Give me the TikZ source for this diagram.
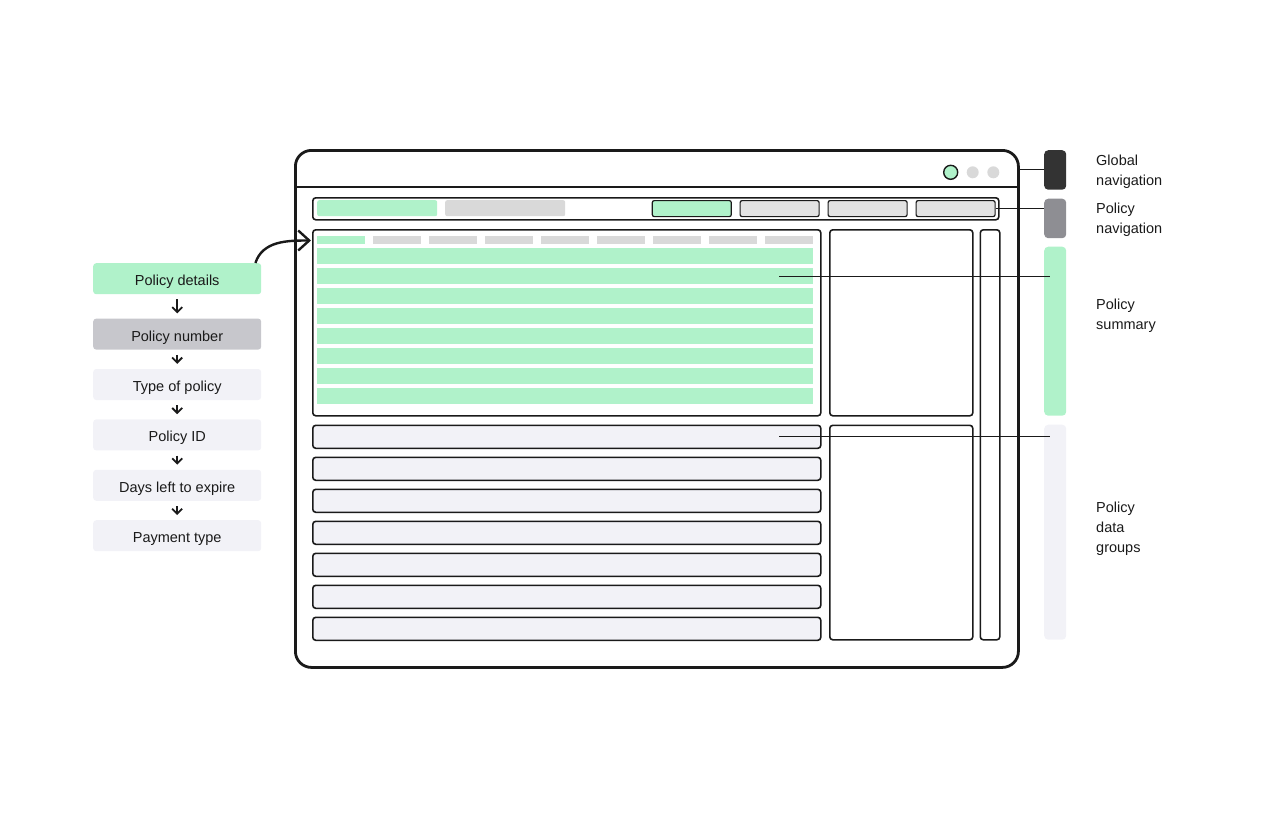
\documentclass[tikz,border=0pt]{standalone}
\usepackage{fontspec}
\setmainfont{Liberation Sans}
\usepackage{tikz}
\usetikzlibrary{arrows.meta, calc, positioning}
\definecolor{ink}{HTML}{1A1A1A}
\definecolor{mint}{HTML}{B0F2CA}
\definecolor{midgray}{HTML}{C7C7CC}
\definecolor{pale}{HTML}{F2F2F7}
\definecolor{tabgray}{HTML}{D9D9D9}
\definecolor{btngray}{HTML}{E2E2E2}
\definecolor{darkbar}{HTML}{333333}
\definecolor{navgray}{HTML}{8E8E93}
\newcommand{\labelfont}{\fontsize{14.5pt}{20pt}\selectfont}
\tikzstyle{win} = [draw=ink, line width=2.8pt, rounded corners=16pt, inner sep=0pt, anchor=north west]
\tikzstyle{panel} = [draw=ink, line width=1.6pt, rounded corners=3pt, inner sep=0pt, anchor=north west]
\tikzstyle{btn} = [draw=ink, line width=1.2pt, rounded corners=2pt, inner sep=0pt, anchor=north west, minimum width=79pt, minimum height=16pt]
\tikzstyle{fillbar} = [inner sep=0pt, anchor=north west]
\tikzstyle{side} = [rounded corners=4pt, inner sep=0pt, anchor=north west, minimum width=22pt]
\tikzstyle{flowbox} = [rounded corners=3pt, inner sep=0pt, minimum width=168pt, minimum height=31pt, text height=14pt, text depth=0pt, text=ink, font=\labelfont]
\tikzstyle{lbl} = [anchor=west, align=left, inner sep=0pt, text=ink, font=\labelfont]
\tikzstyle{leader} = [draw=ink, line width=1pt]
\tikzstyle{down} = [ink, line width=1.8pt, -{Straight Barb[length=5pt,width=10pt]}]
\tikzstyle{curve} = [ink, line width=2.4pt, -{Straight Barb[length=11pt,width=20pt]}]

\begin{document}
\begin{tikzpicture}[x=1pt, y=-1pt]
		\useasboundingbox (0,0) rectangle (1272,812);

		% browser window
		\node (window) [win, minimum width=723pt, minimum height=517pt] at (294,149) {};
		\draw [ink, line width=1.6pt] (window.west |- 0,187) -- (window.east |- 0,187);
		\node (dotgreen) [circle, draw=ink, line width=1.4pt, fill=mint, minimum size=14pt, inner sep=0pt] at (950.7,172.3) {};
		\node (dotone) [circle, fill=tabgray, minimum size=12pt, inner sep=0pt] at (972.7,172.3) {};
		\node (dottwo) [circle, fill=tabgray, minimum size=12pt, inner sep=0pt] at (993.3,172.3) {};

		% policy navigation
		\node (toolbar) [panel, minimum width=686pt, minimum height=22pt] at (312,197) {};
		\node (crumbone) [fillbar, fill=mint, rounded corners=2pt, minimum width=120pt, minimum height=16pt] at (317,200) {};
		\node (crumbtwo) [fillbar, fill=tabgray, rounded corners=2pt, minimum width=120pt, minimum height=16pt] at (445,200) {};
		\node (navbtn1) [btn, fill=mint] at (651.7,200) {};
		\node (navbtn2) [btn, fill=btngray] at (739.5,200) {};
		\node (navbtn3) [btn, fill=btngray] at (827.5,200) {};
		\node (navbtn4) [btn, fill=btngray] at (915.5,200) {};

		% policy summary
		\node (summary) [panel, minimum width=508pt, minimum height=186pt] at (312,229) {};
		\foreach \i in {0,...,8}
			\node (tab\i) [fillbar, fill=tabgray, minimum width=48pt, minimum height=8pt] at (317+56*\i,236) {};
		\node [fillbar, fill=mint, minimum width=48pt, minimum height=8pt] at (317,236) {};
		\foreach \j in {0,...,7}
			\node (row\j) [fillbar, fill=mint, minimum width=496pt, minimum height=16pt] at (317,248+20*\j) {};
		\node (sidetop) [panel, minimum width=143pt, minimum height=186pt] at (829,229) {};
		\node (sidebot) [panel, minimum width=143pt, minimum height=214.5pt] at (829,424.5) {};
		\node (scroll) [panel, minimum width=19.5pt, minimum height=410pt] at (979.5,229) {};

		% policy data groups
		\foreach \j in {0,...,6}
			\node (data\j) [panel, fill=pale, minimum width=508pt, minimum height=23pt] at (312,424.5+32*\j) {};

		% legend bars
		\node (globalbar) [side, fill=darkbar, minimum height=39.5pt] at (1044,150) {};
		\node (navbar) [side, fill=navgray, minimum height=39.5pt] at (1044,198.5) {};
		\node (sumbar) [side, fill=mint, minimum height=169pt] at (1044,246.5) {};
		\node (databar) [side, fill=pale, minimum height=215pt] at (1044,424.5) {};

		\node (globallbl) [lbl] at (1096,172) {Global\\navigation};
		\node (navlbl) [lbl] at (1096,220) {Policy\\navigation};
		\node (sumlbl) [lbl] at (1096,316) {Policy\\summary};
		\node (datalbl) [lbl] at (1096,529) {Policy\\data\\groups};

		\coordinate (sumstart) at (779,276);
		\coordinate (sumend) at ($(sumbar.west |- sumstart)+(6,0)$);
		\coordinate (datastart) at (779,436);
		\coordinate (dataend) at ($(databar.west |- datastart)+(6,0)$);

		\draw [leader] (window.east |- globalbar.west) -- (globalbar.west);
		\draw [leader] (navbtn4.east) -- (navbtn4.east -| navbar.west);
		\draw [leader] (sumstart) -- (sumend);
		\draw [leader] (datastart) -- (dataend);

		% left flow
		\node (details) [flowbox, fill=mint, anchor=north west] at (93,263) {Policy details};
		\node (number) [flowbox, fill=midgray, below=24pt of details] {Policy number};
		\node (type) [flowbox, fill=pale, below=19pt of number] {Type of policy};
		\node (policyid) [flowbox, fill=pale, below=19pt of type] {Policy ID};
		\node (expire) [flowbox, fill=pale, below=19pt of policyid] {Days left to expire};
		\node (payment) [flowbox, fill=pale, below=19pt of expire] {Payment type};

		\foreach \a/\b in {details/number, number/type, type/policyid, policyid/expire, expire/payment}
			\draw [down] ([yshift=-5pt]\a.south) -- ([yshift=5pt]\b.north);

		\coordinate (arrowend) at (311,240.5);
		\draw [curve] ([xshift=-6pt]details.north east) to[out=72, in=180] (arrowend);
\end{tikzpicture}
\end{document}
